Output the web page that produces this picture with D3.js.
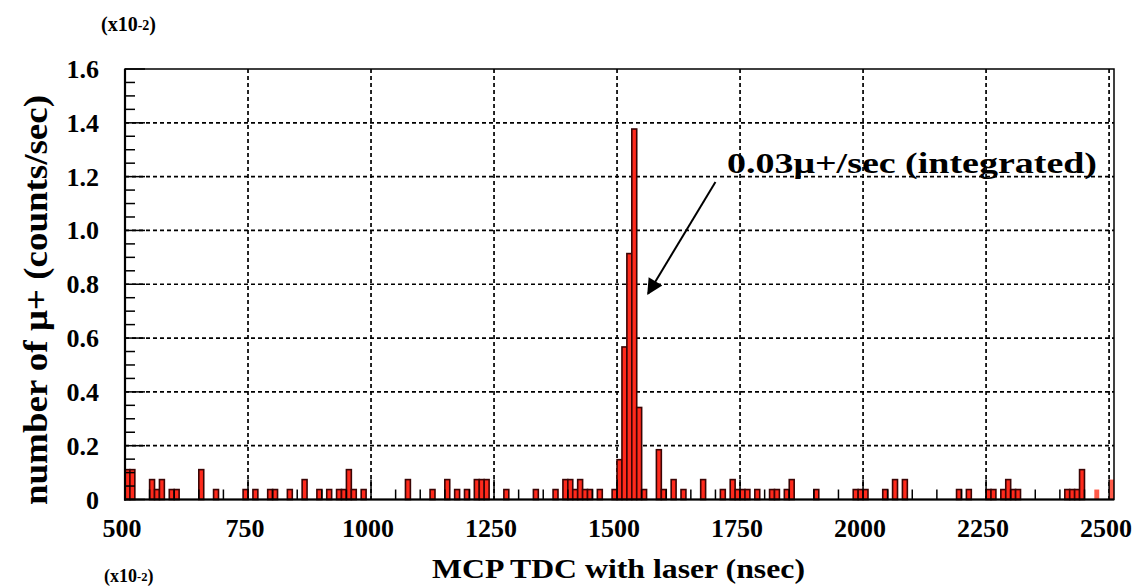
<!DOCTYPE html>
<html>
<head>
<meta charset="utf-8">
<script src="https://cdn.jsdelivr.net/npm/d3@7"></script>
<style>
  html, body { margin: 0; padding: 0; background: #ffffff; }
  svg { display: block; }
</style>
</head>
<body>
<script>
// ---- data (values in units of 1e-2 counts/sec, bins of 10 nsec) ----
const binStarts = [500, 510, 550, 560, 570, 590, 600, 650, 680, 740, 760, 790, 800, 830, 860, 890, 910,
  930, 940, 950, 960, 980, 1070, 1120, 1150, 1170, 1190, 1210, 1220, 1230, 1270, 1330, 1370,
  1390, 1400, 1410, 1420, 1430, 1440, 1460, 1490, 1500, 1510, 1520, 1530, 1540, 1550, 1580, 1590,
  1610, 1630, 1670, 1710, 1730, 1740, 1750, 1760, 1780, 1810, 1820, 1840, 1850, 1900, 1980, 1990,
  2000, 2040, 2060, 2080, 2190, 2210, 2250, 2260, 2280, 2290, 2300, 2310, 2410, 2420, 2430, 2440];
const binValues = [0.111, 0.111, 0.074, 0.037, 0.074, 0.037, 0.037, 0.111, 0.037, 0.037, 0.037, 0.037, 0.037, 0.037, 0.074, 0.037, 0.037,
  0.037, 0.037, 0.111, 0.037, 0.037, 0.074, 0.037, 0.074, 0.037, 0.037, 0.074, 0.074, 0.074, 0.037, 0.037, 0.037,
  0.074, 0.074, 0.037, 0.074, 0.037, 0.037, 0.037, 0.037, 0.148, 0.567, 0.914, 1.377, 0.342, 0.037, 0.185, 0.037,
  0.074, 0.037, 0.074, 0.037, 0.074, 0.037, 0.037, 0.037, 0.037, 0.037, 0.037, 0.037, 0.074, 0.037, 0.037, 0.037,
  0.037, 0.037, 0.074, 0.074, 0.037, 0.037, 0.037, 0.037, 0.037, 0.074, 0.037, 0.037, 0.037, 0.037, 0.037, 0.111];
// faint (unoutlined) bins at the right edge
const faintStarts = [2470, 2500];
const faintValues = [0.037, 0.074];

const xTickValues = [500, 750, 1000, 1250, 1500, 1750, 2000, 2250, 2500];
const xTickLabels = ["500", "750", "1000", "1250", "1500", "1750", "2000", "2250", "2500"];
const yTickValues = [0, 0.2, 0.4, 0.6, 0.8, 1.0, 1.2, 1.4, 1.6];
const yTickLabels = ["0", "0.2", "0.4", "0.6", "0.8", "1.0", "1.2", "1.4", "1.6"];
const binWidth = 10;
const xTitle = "MCP TDC with laser (nsec)";
const yTitle = "number of \u03bc+ (counts/sec)";
const annotation = "0.03\u03bc+/sec (integrated)";
const arrowFrom = [1700, 1.18];
const arrowTo = [1563, 0.765];

// ---- drawing ----
const W = 1139, H = 586;
const FONT = "'Liberation Serif', 'Times New Roman', serif";
const svg = d3.select("body").append("svg").attr("width", W).attr("height", H);

const x = d3.scaleLinear().domain([500, 2510]).range([125, 1114]);
const y = d3.scaleLinear().domain([0, 1.6]).range([499.5, 69]);
const x0 = x.range()[0], x1 = x.range()[1], yb = y(0), yt = y(1.6);

// grid
const grid = svg.append("g").attr("stroke", "#000").attr("stroke-width", 1.7).attr("stroke-dasharray", "4,3");
grid.selectAll("line.v").data(xTickValues.filter(v => v > 500)).join("line")
  .attr("x1", d => x(d)).attr("x2", d => x(d)).attr("y1", yt).attr("y2", yb);
grid.selectAll("line.h").data(yTickValues.filter(v => v > 0 && v < 1.6)).join("line")
  .attr("y1", d => y(d)).attr("y2", d => y(d)).attr("x1", x0).attr("x2", x1);

// bars
const bins = binStarts.map((s, i) => ({ s, v: binValues[i] }));
svg.append("g").selectAll("rect").data(bins).join("rect")
  .attr("x", d => x(d.s)).attr("width", d => x(d.s + binWidth) - x(d.s))
  .attr("y", d => y(d.v)).attr("height", d => y(0) - y(d.v))
  .attr("fill", "#ff2a1c").attr("stroke", "#3a0505").attr("stroke-width", 1.6);
const faint = faintStarts.map((s, i) => ({ s, v: faintValues[i] }));
svg.append("g").selectAll("rect").data(faint).join("rect")
  .attr("x", d => x(d.s)).attr("width", d => Math.min(x(d.s + binWidth), x1) - x(d.s))
  .attr("y", d => y(d.v)).attr("height", d => y(0) - y(d.v))
  .attr("fill", "#ff5a48");

// frame
svg.append("rect").attr("x", x0).attr("y", yt).attr("width", x1 - x0).attr("height", yb - yt)
  .attr("fill", "none").attr("stroke", "#000").attr("stroke-width", 1.5);
svg.append("line").attr("x1", x0).attr("x2", x0).attr("y1", yt).attr("y2", yb + 1).attr("stroke", "#000").attr("stroke-width", 2.2);
svg.append("line").attr("x1", x0 - 1).attr("x2", x1).attr("y1", yb).attr("y2", yb).attr("stroke", "#000").attr("stroke-width", 2.2);

// ticks (inside)
const xMinor = d3.range(550, 2501, 50).filter(v => v % 250 !== 0);
const ticks = svg.append("g").attr("stroke", "#000").attr("stroke-width", 1.5);
ticks.selectAll("line.xm").data(xMinor).join("line")
  .attr("x1", d => x(d)).attr("x2", d => x(d)).attr("y1", yb).attr("y2", yb - 10);
ticks.selectAll("line.xM").data(xTickValues).join("line")
  .attr("x1", d => x(d)).attr("x2", d => x(d)).attr("y1", yb).attr("y2", yb - 20);
const yMinor = d3.range(1, 32).map(i => i * 0.05).filter(v => Math.abs(v / 0.2 - Math.round(v / 0.2)) > 1e-6);
ticks.selectAll("line.ym").data(yMinor).join("line")
  .attr("y1", d => y(d)).attr("y2", d => y(d)).attr("x1", x0).attr("x2", x0 + 10);
ticks.selectAll("line.yM").data(yTickValues).join("line")
  .attr("y1", d => y(d)).attr("y2", d => y(d)).attr("x1", x0).attr("x2", x0 + 20);

// tick labels
svg.append("g").selectAll("text").data(xTickValues).join("text")
  .attr("x", d => x(d) - 3).attr("y", yb + 37)
  .attr("text-anchor", "middle").attr("font-family", FONT).attr("font-weight", "bold").attr("font-size", 26)
  .text((d, i) => xTickLabels[i]);
svg.append("g").selectAll("text").data(yTickValues).join("text")
  .attr("x", 99).attr("y", d => y(d) + 9)
  .attr("text-anchor", "end").attr("font-family", FONT).attr("font-weight", "bold").attr("font-size", 26)
  .text((d, i) => yTickLabels[i]);

// scale factor labels
function scaleLabel(px, py, fs) {
  const t = svg.append("text").attr("x", px).attr("y", py)
    .attr("font-family", FONT).attr("font-weight", "bold").attr("font-size", fs);
  t.append("tspan").text("(x10");
  t.append("tspan").attr("font-size", fs * 0.7).attr("dy", -1).text("-2");
  t.append("tspan").attr("dy", 1).text(")");
}
scaleLabel(101, 31, 20);
scaleLabel(104, 582, 18);

// titles
svg.append("text").attr("x", 432).attr("y", 578)
  .attr("textLength", 373).attr("lengthAdjust", "spacingAndGlyphs")
  .attr("font-family", FONT).attr("font-size", 27).attr("font-weight", "bold").text(xTitle);
svg.append("text").attr("transform", "translate(47,505) rotate(-90)")
  .attr("textLength", 410).attr("lengthAdjust", "spacingAndGlyphs")
  .attr("font-family", FONT).attr("font-size", 33).attr("font-weight", "bold").text(yTitle);

// annotation + arrow
svg.append("text").attr("x", 727).attr("y", 173)
  .attr("textLength", 370).attr("lengthAdjust", "spacingAndGlyphs")
  .attr("font-family", FONT).attr("font-size", 30).attr("font-weight", "bold").text(annotation);
svg.append("defs").append("marker").attr("id", "ah").attr("viewBox", "0 0 10 10")
  .attr("refX", 9).attr("refY", 5)
  .attr("markerUnits", "userSpaceOnUse").attr("orient", "auto")
  .attr("markerWidth", 24).attr("markerHeight", 16)
  .append("path").attr("d", "M0,0 L10,5 L0,10 z").attr("fill", "#000");
svg.append("line").attr("x1", x(arrowFrom[0])).attr("y1", y(arrowFrom[1]))
  .attr("x2", x(arrowTo[0])).attr("y2", y(arrowTo[1]))
  .attr("stroke", "#000").attr("stroke-width", 2).attr("marker-end", "url(#ah)");
</script>
</body>
</html>
